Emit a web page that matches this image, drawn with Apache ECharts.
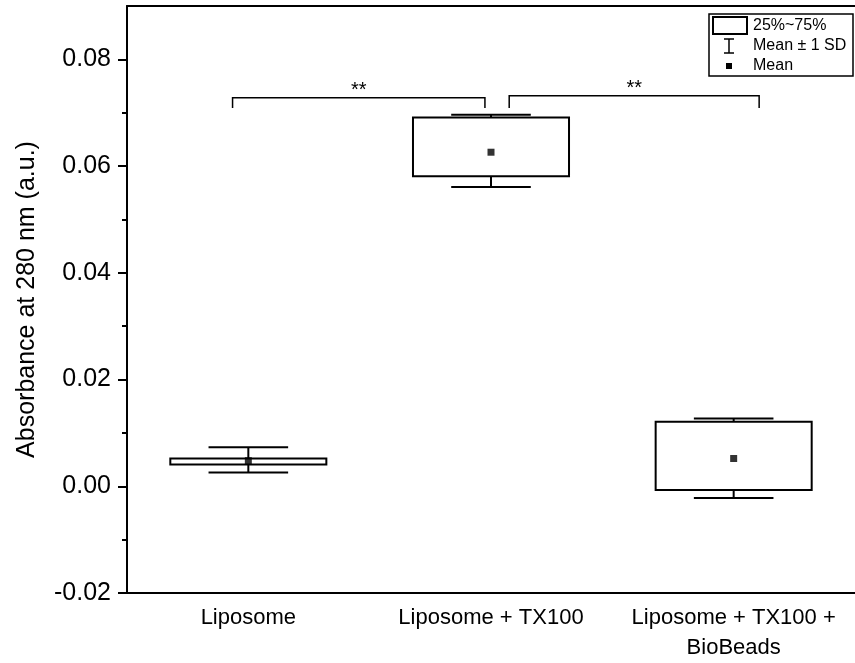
<!DOCTYPE html>
<html>
<head>
<meta charset="UTF-8">
<title></title>
<script src="https://cdn.jsdelivr.net/npm/echarts/dist/echarts.min.js"></script>
</head>
<body style="margin:0;background:#fff">
<div id="main" style="width:855px;height:663px;"></div>
<script>
    // 数据
    var categories = ['Liposome', 'Liposome + TX100', 'Liposome + TX100 +\nBioBeads'];
    var q1 = [0.0041, 0.0581, -0.0007];
    var q3 = [0.0052, 0.0691, 0.0121];
    var means = [0.0048, 0.0626, 0.0052];
    var sdLow = [0.0026, 0.0561, -0.0022];
    var sdHigh = [0.0073, 0.0696, 0.0127];
    var yTicks = [-0.02, 0.00, 0.02, 0.04, 0.06, 0.08];
    var yMinorTicks = [-0.01, 0.01, 0.03, 0.05, 0.07];

    // significance brackets: category + band offset
    var brFromCat = [0, 1];
    var brFromOff = [-0.065, 0.075];
    var brToCat = [1, 2];
    var brToOff = [-0.025, 0.105];
    var brY = [0.0728, 0.0732];
    var brLeg = [0.0709, 0.0709];
    var sigLabels = ['**', '**'];

    var legendNames = ['25%~75%', 'Mean \u00b1 1 SD', 'Mean'];

    var FONT = 'Arial, "Liberation Sans", sans-serif';

    var boxData = categories.map(function (c, i) { return [i, q1[i], q3[i]]; });
    var sdData = categories.map(function (c, i) { return [i, sdLow[i], sdHigh[i], q1[i], q3[i]]; });
    var meanData = categories.map(function (c, i) { return [i, means[i]]; });
    var brData = brY.map(function (y, i) {
        return [brFromCat[i], y, brFromOff[i], brToCat[i], brToOff[i], brLeg[i]];
    });

    var myChart = echarts.init(document.getElementById('main'));

    function renderBox(params, api) {
        var top = api.coord([api.value(0), api.value(2)]);
        var bot = api.coord([api.value(0), api.value(1)]);
        var w = api.size([1, 0])[0] * 0.643;
        return {
            type: 'rect',
            shape: {x: top[0] - w / 2, y: top[1], width: w, height: bot[1] - top[1]},
            style: {fill: 'none', stroke: '#000', lineWidth: 2}
        };
    }

    function renderSd(params, api) {
        var i = api.value(0);
        var lo = api.coord([i, api.value(1)]);
        var hi = api.coord([i, api.value(2)]);
        var b1 = api.coord([i, api.value(3)]);
        var b3 = api.coord([i, api.value(4)]);
        var cw = api.size([1, 0])[0] * 0.164;
        var st = {stroke: '#000', lineWidth: 2};
        var x = lo[0];
        return {
            type: 'group',
            children: [
                {type: 'line', shape: {x1: x, y1: b3[1], x2: x, y2: hi[1]}, style: st},
                {type: 'line', shape: {x1: x - cw, y1: hi[1], x2: x + cw, y2: hi[1]}, style: st},
                {type: 'line', shape: {x1: x, y1: b1[1], x2: x, y2: lo[1]}, style: st},
                {type: 'line', shape: {x1: x - cw, y1: lo[1], x2: x + cw, y2: lo[1]}, style: st}
            ]
        };
    }

    function renderBracket(params, api) {
        var band = api.size([1, 0])[0];
        var x0 = api.coord([api.value(0), 0])[0] + api.value(2) * band;
        var x1 = api.coord([api.value(3), 0])[0] + api.value(4) * band;
        var y = api.coord([0, api.value(1)])[1];
        var yl = api.coord([0, api.value(5)])[1];
        return {
            type: 'group',
            children: [
                {type: 'polyline', shape: {points: [[x0, yl], [x0, y], [x1, y], [x1, yl]]},
                    style: {fill: 'none', stroke: '#000', lineWidth: 1.5}},
                {type: 'text', x: (x0 + x1) / 2, y: y - 7,
                    style: {text: sigLabels[params.dataIndex], fill: '#000', font: '20px ' + FONT,
                        align: 'center', verticalAlign: 'middle'}}
            ]
        };
    }

    option = {
        backgroundColor: '#fff',
        animation: false,
        grid: {left: 127, right: -4, top: 6, bottom: 66},
        xAxis: [{
            type: 'category',
            data: categories,
            axisLine: {onZero: false, lineStyle: {color: '#000', width: 2}},
            axisTick: {alignWithLabel: true, length: 8, lineStyle: {color: '#000', width: 2}},
            axisLabel: {color: '#000', fontSize: 22, fontFamily: FONT, margin: 10, lineHeight: 30, interval: 0}
        }, {
            type: 'category',
            position: 'top',
            data: categories,
            axisLine: {onZero: false, lineStyle: {color: '#000', width: 2}},
            axisTick: {show: false},
            axisLabel: {show: false}
        }],
        yAxis: [{
            type: 'value',
            min: -0.02,
            max: 0.09,
            interval: 0.02,
            name: 'Absorbance at 280 nm (a.u.)',
            nameLocation: 'middle',
            nameGap: 87,
            nameTextStyle: {color: '#000', fontSize: 25, fontFamily: FONT},
            axisLine: {show: true, onZero: false, lineStyle: {color: '#000', width: 2}},
            axisTick: {show: true, length: 9, customValues: yTicks, lineStyle: {color: '#000', width: 2}},
            splitLine: {show: false},
            axisLabel: {
                color: '#000', fontSize: 25, fontFamily: FONT, margin: 16, customValues: yTicks,
                formatter: function (v) { return v.toFixed(2); }
            }
        }, {
            type: 'value',
            position: 'left',
            min: -0.02,
            max: 0.09,
            interval: 0.02,
            axisLine: {show: false},
            axisTick: {show: true, length: 5, customValues: yMinorTicks, lineStyle: {color: '#000', width: 2}},
            axisLabel: {show: false},
            splitLine: {show: false}
        }],
        graphic: [
            {type: 'rect', shape: {x: 709, y: 14, width: 144, height: 62}, style: {fill: '#fff', stroke: '#000', lineWidth: 1.5}, z: 10},
            {type: 'rect', shape: {x: 713, y: 17, width: 34, height: 17}, style: {fill: 'none', stroke: '#000', lineWidth: 2}, z: 11},
            {type: 'text', x: 753, y: 26, style: {text: legendNames[0], font: '16px ' + FONT, fill: '#000', verticalAlign: 'middle'}, z: 11},
            {type: 'polyline', shape: {points: [[724, 39], [734, 39], [729, 39], [729, 53], [724, 53], [734, 53]]}, style: {fill: 'none', stroke: '#000', lineWidth: 1.5}, z: 11},
            {type: 'text', x: 753, y: 46, style: {text: legendNames[1], font: '16px ' + FONT, fill: '#000', verticalAlign: 'middle'}, z: 11},
            {type: 'rect', shape: {x: 726, y: 63, width: 6, height: 6}, style: {fill: '#000'}, z: 11},
            {type: 'text', x: 753, y: 66, style: {text: legendNames[2], font: '16px ' + FONT, fill: '#000', verticalAlign: 'middle'}, z: 11}
        ],
        series: [
            {name: legendNames[0], type: 'custom', renderItem: renderBox, data: boxData, encode: {x: 0, y: [1, 2]}},
            {name: legendNames[1], type: 'custom', renderItem: renderSd, data: sdData, encode: {x: 0, y: [1, 2]}},
            {name: legendNames[2], type: 'scatter', symbol: 'rect', symbolSize: 7, itemStyle: {color: '#000'}, data: meanData, z: 5},
            {type: 'custom', renderItem: renderBracket, data: brData, encode: {x: 0, y: 1}}
        ]
    };

    myChart.setOption(option);
</script>
</body>
</html>
